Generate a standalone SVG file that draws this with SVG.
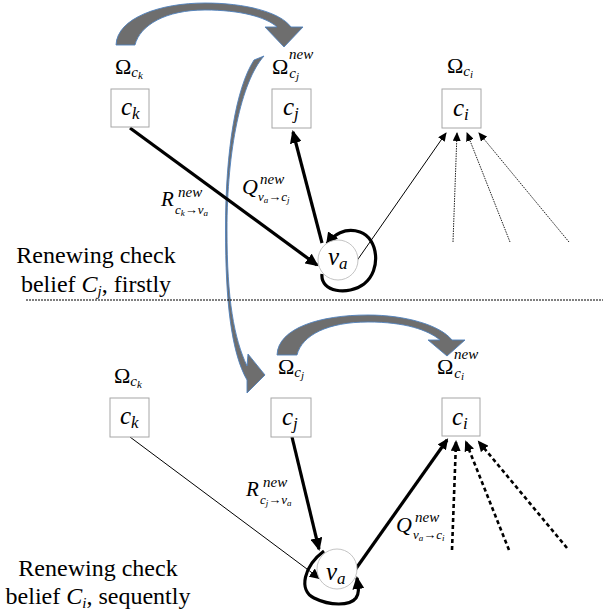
<svg xmlns="http://www.w3.org/2000/svg" width="603" height="616" viewBox="0 0 603 616">
<defs>
<style>
.box{fill:#fff;stroke:#a6a6a6;stroke-width:1}
.circ{fill:#fff;stroke:#c4c4c4;stroke-width:1}
.m{font-family:"Liberation Serif","DejaVu Serif",serif;font-style:italic;fill:#000}
.om{font-family:"Liberation Serif","DejaVu Serif",serif;fill:#000}
.t{font-family:"Liberation Serif","DejaVu Serif",serif;font-size:24px;fill:#000;text-anchor:middle}
.big{fill:#6e6e6e;stroke:#4f81bd;stroke-width:0.9}
.thick{fill:none;stroke:#000;stroke-width:3.2}
.thin{fill:none;stroke:#000;stroke-width:1}
.dot{fill:none;stroke:#222;stroke-width:1;stroke-dasharray:1.5 1}
.dash{fill:none;stroke:#000;stroke-width:2.6;stroke-dasharray:4 3}
</style>
<marker id="ah" markerUnits="userSpaceOnUse" markerWidth="14" markerHeight="12" refX="11" refY="6" orient="auto"><path d="M0,0 L13,6 L0,12 Z" fill="#000"/></marker>
<marker id="am" markerUnits="userSpaceOnUse" markerWidth="12" markerHeight="10" refX="9" refY="5" orient="auto"><path d="M0,0 L11,5 L0,10 Z" fill="#000"/></marker>
<marker id="as" markerUnits="userSpaceOnUse" markerWidth="9" markerHeight="8" refX="8" refY="4" orient="auto"><path d="M0,0 L9,4 L0,8 Z" fill="#000"/></marker>
</defs>
<rect width="603" height="616" fill="#fff"/>

<g id="transfer-arrows">
<path class="big" d="M116,45 C117,18 160,3 205,3 C245,3 280,12 291,27 L303,27 L284,47 L265,27 L277,27 C266,17 240,10 205,10 C166,10 140,25 135,45 Z"/>
<path class="big" d="M277,355 C278,328 320,315 368,315 C405,315 440,325 452,340 L465,340 L447,356 L428,340 L440,340 C428,330 405,322 368,322 C328,322 302,335 297,355 Z"/>
<path class="big" d="M264,56 C241,82 227,150 227,230 C227,300 234,338 247,366 L248,354 L265,375 L247,393 L247,380 C231,352 225.5,300 225.5,230 C225.5,150 236,88 254,60 Z"/>
</g>

<g id="connectors">
<path class="thick" d="M130,128 L317,265" marker-end="url(#ah)"/>
<path class="thick" d="M322,243 L293,132" marker-end="url(#ah)"/>
<path class="thick" stroke-width="3.5" d="M322,274 C320,292 348,296 364,284 C382,270 378,238 360,232 C345,227 333,235 327,244" marker-end="url(#ah)"/>
<path class="thin" d="M356,262 L446,133" marker-end="url(#as)"/>
<path class="dot" d="M453,242 L457,133" marker-end="url(#as)"/>
<path class="dot" d="M510,242 L467,133" marker-end="url(#as)"/>
<path class="dot" d="M569,242 L479,133" marker-end="url(#as)"/>

<path class="thin" stroke-width="1.2" d="M130,437 L319,578" marker-end="url(#am)"/>
<path class="thick" stroke-width="3.5" d="M292,437 L319,549" marker-end="url(#ah)"/>
<path class="thick" stroke-width="2.2" d="M355,570 L447,440" marker-end="url(#am)"/>
<path class="dash" d="M452,550 L456,442" marker-end="url(#am)"/>
<path class="dash" d="M509,550 L466,442" marker-end="url(#am)"/>
<path class="dash" d="M567,548 L479,442" marker-end="url(#am)"/>
<path class="thick" stroke-width="3.5" d="M324,551 C304,566 298,590 314,598 C330,606 350,606 356,598 C360,592 358,586 357,578" marker-end="url(#ah)"/>
<line x1="26" y1="300" x2="603" y2="300" stroke="#000" stroke-width="1" stroke-dasharray="2 1"/>
</g>

<g id="top-ck">
<text class="om" x="115" y="74" font-size="22">Ω<tspan class="m" font-size="15" dy="3">c</tspan><tspan class="m" font-size="11" dy="2">k</tspan></text>
<rect class="box" x="111" y="89" width="38" height="38"/>
<text class="m" x="121" y="115" font-size="25">c<tspan font-size="17" dy="4">k</tspan></text>
</g>
<g id="top-cj">
<text class="om" x="272" y="74" font-size="22">Ω<tspan class="m" font-size="15" dx="1" dy="4">c</tspan><tspan class="m" font-size="11" dy="2">j</tspan></text>
<text class="m" x="289" y="59" font-size="15">new</text>
<rect class="box" x="272" y="89" width="39" height="39"/>
<text class="m" x="283" y="115" font-size="25">c<tspan font-size="17" dy="4">j</tspan></text>
</g>
<g id="top-ci">
<text class="om" x="447" y="73" font-size="22">Ω<tspan class="m" font-size="15" dy="3">c</tspan><tspan class="m" font-size="11" dy="2">i</tspan></text>
<rect class="box" x="442" y="89" width="39" height="39"/>
<text class="m" x="453" y="116" font-size="25">c<tspan font-size="17" dy="4">i</tspan></text>
</g>
<g id="top-va">
<circle class="circ" cx="338" cy="260" r="20"/>
<text class="m" x="328" y="265" font-size="25">v<tspan font-size="17" dy="4">a</tspan></text>
</g>
<g id="top-labels">
<text class="m" x="161" y="206" font-size="21">R</text>
<text class="m" x="178" y="197" font-size="15">new</text>
<text class="m" x="175" y="214" font-size="13">c<tspan font-size="9" dy="2">k</tspan><tspan class="om" font-size="13" dy="-2">→</tspan>v<tspan font-size="9" dy="2">a</tspan></text>
<text class="m" x="242" y="194" font-size="22">Q</text>
<text class="m" x="260" y="184" font-size="15">new</text>
<text class="m" x="258" y="201" font-size="13">v<tspan font-size="9" dy="2">a</tspan><tspan class="om" font-size="13" dy="-2">→</tspan>c<tspan font-size="9" dy="2">j</tspan></text>
<text class="t" x="96" y="263">Renewing check</text>
<text class="t" x="96" y="292">belief <tspan font-style="italic">C</tspan><tspan font-style="italic" font-size="15" dy="4">j</tspan><tspan dy="-4">, firstly</tspan></text>
</g>

<g id="bot-ck">
<text class="om" x="114" y="383" font-size="22">Ω<tspan class="m" font-size="15" dy="3">c</tspan><tspan class="m" font-size="11" dy="2">k</tspan></text>
<rect class="box" x="110" y="398" width="39" height="39"/>
<text class="m" x="120" y="424" font-size="25">c<tspan font-size="17" dy="4">k</tspan></text>
</g>
<g id="bot-cj">
<text class="om" x="278" y="374" font-size="22">Ω<tspan class="m" font-size="15" dy="3">c</tspan><tspan class="m" font-size="11" dy="2">j</tspan></text>
<rect class="box" x="271" y="398" width="40" height="39"/>
<text class="m" x="282" y="425" font-size="25">c<tspan font-size="17" dy="4">j</tspan></text>
</g>
<g id="bot-ci">
<text class="om" x="437" y="374" font-size="22">Ω<tspan class="m" font-size="15" dx="1" dy="4">c</tspan><tspan class="m" font-size="11" dy="2">i</tspan></text>
<text class="m" x="454" y="359" font-size="15">new</text>
<rect class="box" x="442" y="398" width="38" height="38"/>
<text class="m" x="452" y="425" font-size="25">c<tspan font-size="17" dy="4">i</tspan></text>
</g>
<g id="bot-va">
<circle class="circ" cx="337" cy="569" r="20"/>
<text class="m" x="326" y="580" font-size="25">v<tspan font-size="17" dy="4">a</tspan></text>
</g>
<g id="bot-labels">
<text class="m" x="246" y="496" font-size="21">R</text>
<text class="m" x="263" y="487" font-size="15">new</text>
<text class="m" x="260" y="504" font-size="13">c<tspan font-size="9" dy="2">j</tspan><tspan class="om" font-size="13" dy="-2">→</tspan>v<tspan font-size="9" dy="2">a</tspan></text>
<text class="m" x="396" y="532" font-size="22">Q</text>
<text class="m" x="415" y="522" font-size="15">new</text>
<text class="m" x="413" y="539" font-size="13">v<tspan font-size="9" dy="2">a</tspan><tspan class="om" font-size="13" dy="-2">→</tspan>c<tspan font-size="9" dy="2">i</tspan></text>
<text class="t" x="98" y="576">Renewing check</text>
<text class="t" x="98" y="604">belief <tspan font-style="italic">C</tspan><tspan font-style="italic" font-size="15" dy="4">i</tspan><tspan dy="-4">, sequently</tspan></text>
</g>
</svg>
